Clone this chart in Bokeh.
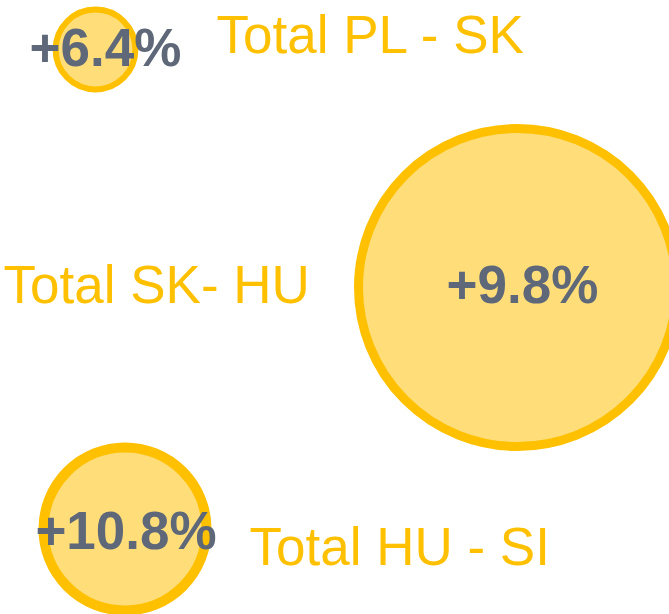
from bokeh.plotting import figure
from bokeh.models import Range1d, ColumnDataSource
from bokeh.core.properties import value
from bokeh.embed import file_html
from bokeh.resources import INLINE
import numpy as np

# Data
routes = ["Total PL - SK", "Total SK- HU", "Total HU - SI"]
growth = [6.4, 9.8, 10.8]
x_vals = [0.95, 5.17, 1.245]
y_vals = [5.65, 3.27, 0.855]
volume = [0.63, 10.0, 2.63]
label_x = [2.16, 0.03, 2.49]
label_y = [5.80, 3.30, 0.68]

W, H = 669, 614
p = figure(width=W, height=H, output_backend="svg", toolbar_location=None,
           x_range=Range1d(0, 6.69), y_range=Range1d(0, 6.14),
           min_border=0, min_border_left=0, min_border_right=0,
           min_border_top=0, min_border_bottom=0)
p.axis.visible = False
p.grid.visible = False
p.outline_line_color = None
p.background_fill_color = "white"
p.border_fill_color = "white"

sizes = [100.56 * np.sqrt(v) for v in volume]
stroke_w = [6, 9, 10]
src = ColumnDataSource(dict(x=x_vals, y=y_vals, size=sizes, lw=stroke_w))
p.scatter(x="x", y="y", size="size", source=src, marker="circle",
          fill_color="#FFDD79", line_color="#FFC000", line_width="lw")

# percentage labels (offset to match the reference)
txt_dx = [10, 5, 1]
txt_dy = [-2, -3, 1]
tsrc = ColumnDataSource(dict(x=x_vals, y=y_vals,
                             txt=[f"+{g:.1f}%" for g in growth],
                             dx=txt_dx, dy=txt_dy))
p.text(x="x", y="y", text="txt", source=tsrc, x_offset="dx", y_offset="dy",
       text_font=value("Liberation Sans"), text_font_style="bold",
       text_font_size="53px", text_color="#5E6878",
       text_align="center", text_baseline="alphabetic")

lsrc = ColumnDataSource(dict(x=label_x, y=label_y, t=routes))
p.text(x="x", y="y", text="t", source=lsrc,
       text_font=value("Liberation Sans"), text_font_size="53px",
       text_color="#FFC000", text_align="left", text_baseline="alphabetic")

open("out.html", "w").write(file_html(p, INLINE))
